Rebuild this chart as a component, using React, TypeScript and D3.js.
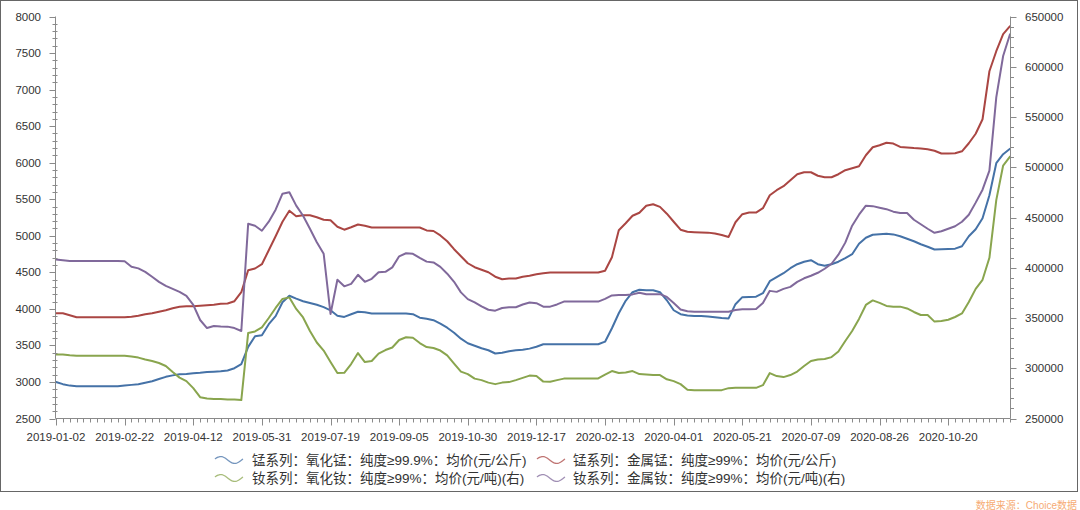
import React from "react";
import * as d3 from "d3";

// ---- Data ----
const tickLabels = [
  "2019-01-02", "2019-02-22", "2019-04-12", "2019-05-31", "2019-07-19",
  "2019-09-05", "2019-10-30", "2019-12-17", "2020-02-13", "2020-04-01",
  "2020-05-21", "2020-07-09", "2020-08-26", "2020-10-20",
];
const tickEvery = 10;

const seriesNames = [
  "锰系列：氧化锰：纯度≥99.9%：均价(元/公斤)",
  "锰系列：金属锰：纯度≥99%：均价(元/公斤)",
  "钕系列：氧化钕：纯度≥99%：均价(元/吨)(右)",
  "钕系列：金属钕：纯度≥99%：均价(元/吨)(右)",
];
const seriesColors = ["#4572A7", "#AA4643", "#89A54E", "#80699B"];

// left axis (元/公斤)
const mnOxide = [
  3000, 2970, 2950, 2940, 2940, 2940, 2940, 2940, 2940, 2940,
  2950, 2960, 2970, 2990, 3010, 3040, 3070, 3090, 3105, 3110,
  3120, 3125, 3135, 3140, 3147, 3157, 3188, 3243, 3480, 3626,
  3640, 3790, 3900, 4091, 4180, 4140, 4105, 4080, 4057, 4023,
  3980, 3906, 3890, 3927, 3961, 3954, 3936, 3936, 3936, 3936,
  3936, 3936, 3927, 3879, 3865, 3845, 3798, 3742, 3674, 3592,
  3530, 3496, 3462, 3434, 3389, 3400, 3421, 3434, 3441, 3456,
  3482, 3516, 3516, 3516, 3516, 3516, 3516, 3516, 3516, 3516,
  3551, 3735, 3940, 4111, 4228, 4262, 4255, 4255, 4228, 4118,
  3981, 3927, 3909, 3904, 3904, 3897, 3886, 3876, 3869, 4064,
  4160, 4164, 4166, 4214, 4378, 4433, 4488, 4556, 4611, 4645,
  4666, 4611, 4590, 4611, 4645, 4693, 4748, 4891, 4973, 5014,
  5021, 5028, 5019, 4994, 4960, 4925, 4884, 4850, 4812, 4816,
  4819, 4824, 4857, 4994, 5090, 5240, 5555, 5993, 6116, 6191,
];
const mnMetal = [
  3940, 3940, 3913, 3885, 3885, 3885, 3885, 3885, 3885, 3885,
  3885, 3893, 3906, 3927, 3940, 3961, 3981, 4009, 4029, 4036,
  4036, 4043, 4050, 4057, 4070, 4073, 4105, 4228, 4529, 4552,
  4611, 4802, 4994, 5192, 5343, 5267, 5281, 5281, 5254, 5220,
  5213, 5124, 5083, 5117, 5154, 5138, 5113, 5113, 5113, 5113,
  5113, 5113, 5113, 5113, 5073, 5065, 5005, 4925, 4816, 4720,
  4624, 4570, 4536, 4501, 4440, 4406, 4415, 4415, 4440, 4453,
  4474, 4488, 4497, 4497, 4497, 4497, 4497, 4497, 4497, 4497,
  4522, 4707, 5076, 5172, 5274, 5315, 5411, 5432, 5395, 5302,
  5192, 5083, 5054, 5049, 5046, 5043, 5030, 5010, 4984, 5185,
  5295, 5318, 5318, 5377, 5555, 5623, 5678, 5760, 5842, 5869,
  5869, 5821, 5801, 5801, 5842, 5897, 5924, 5951, 6102, 6211,
  6239, 6273, 6262, 6215, 6208, 6200, 6195, 6184, 6163, 6125,
  6126, 6129, 6156, 6266, 6396, 6594, 7251, 7525, 7758, 7867,
];
// right axis (元/吨)
const ndOxide = [
  313600, 313600, 312900, 312400, 312400, 312400, 312400, 312400, 312400, 312400,
  312400, 311600, 310600, 308700, 307200, 305200, 302200, 296200, 290700, 287200,
  280200, 271200, 269800, 269300, 269300, 269000, 268800, 268300, 335100, 336600,
  340600, 350000, 360000, 369000, 370500, 359000, 350500, 337100, 325600, 317600,
  306200, 295200, 295500, 304200, 315100, 306200, 307200, 314600, 318100, 320600,
  328100, 330800, 330300, 325100, 321100, 320100, 317600, 312800, 304700, 296700,
  294200, 289700, 288200, 285700, 284200, 285700, 286200, 288200, 290400, 292700,
  292200, 286700, 286500, 288200, 289700, 289900, 289900, 289900, 289900, 289900,
  293700, 297200, 295200, 295700, 297200, 294200, 293700, 293200, 293200, 289000,
  287200, 284200, 278700, 278200, 278200, 278200, 278200, 278200, 280200, 280500,
  280500, 280500, 280500, 283200, 295200, 292200, 291200, 293200, 296700, 302200,
  307200, 308700, 309200, 311100, 316600, 327100, 337100, 349100, 363000, 367500,
  365000, 362000, 361300, 361300, 359500, 356000, 353000, 353000, 346400, 347100,
  348300, 351000, 354500, 366000, 379000, 388000, 409900, 467300, 501700, 510600,
];
const ndMetal = [
  408200, 407500, 406700, 406700, 406700, 406700, 406700, 406700, 406700, 406700,
  406400, 400900, 399400, 395900, 391000, 386000, 382000, 379000, 376000, 372000,
  363000, 348000, 340000, 342000, 341600, 341400, 340000, 337100, 443800, 441800,
  436800, 445800, 457800, 473700, 475200, 461800, 451800, 438800, 425400, 413900,
  354000, 388000, 381500, 384000, 393000, 386000, 389000, 395600, 395900, 400400,
  411400, 414400, 413900, 409900, 406100, 405300, 400900, 394100, 386000, 375500,
  368800, 365500, 361500, 358200, 357300, 360000, 360700, 360700, 363400, 365500,
  364700, 361300, 361300, 363500, 366300, 366300, 366300, 366300, 366300, 366300,
  369000, 372500, 373000, 373000, 373500, 375200, 373700, 373700, 373700, 371000,
  365000, 358500, 356700, 356300, 356300, 356300, 356300, 356300, 356300, 358000,
  358700, 358700, 359000, 365000, 377000, 376000, 379000, 381000, 386000, 389500,
  392000, 395000, 399000, 404000, 413000, 425000, 441800, 452800, 461800, 461300,
  459800, 458300, 455800, 454500, 454500, 447800, 443300, 438800, 434800, 436300,
  438800, 441300, 445800, 452800, 464800, 477700, 496700, 569500, 610700, 632300,
];

const leftDomain = [2500, 8000];
const rightDomain = [250000, 650000];

const W = 1080;
const H = 510;
const PL = 55.5;
const PR = 1010.5;
const PT = 16.5;
const PB = 418.5;
const FONT = "'Liberation Sans', Arial, 'Noto Sans CJK SC', sans-serif";

export default function App() {
  const n = mnOxide.length;
  const x = d3.scaleLinear().domain([0, n - 1]).range([56, 1010]);
  const yL = d3.scaleLinear().domain(leftDomain).range([PB, PT]);
  const yR = d3.scaleLinear().domain(rightDomain).range([PB, PT]);

  const mk = (ys: d3.ScaleLinear<number, number>) =>
    d3.line<number>().x((_, i) => x(i)).y((d) => ys(d));

  const series = [
    { data: mnOxide, scale: yL },
    { data: mnMetal, scale: yL },
    { data: ndOxide, scale: yR },
    { data: ndMetal, scale: yR },
  ];

  const leftMajor = d3.range(leftDomain[0], leftDomain[1] + 1, 500);
  const leftMinor = d3.range(leftDomain[0], leftDomain[1] + 1, 100).filter((v) => v % 500 !== 0);
  const rightMajor = d3.range(rightDomain[0], rightDomain[1] + 1, 50000);
  const rightMinor = d3.range(rightDomain[0], rightDomain[1] + 1, 10000).filter((v) => v % 50000 !== 0);
  const xIdx = d3.range(0, n);

  const axisColor = "#8a8a8a";
  const textColor = "#333";

  const wave = (x0: number, yc: number) => {
    const pts: [number, number][] = d3.range(0, 29).map((k) => [x0 + k, yc - 3.5 * Math.sin((k / 28) * 2 * Math.PI + 0.3)]);
    return d3.line().curve(d3.curveBasis)(pts) || "";
  };

  const legendPos = [
    { sx: 215, tx: 252, y: 460 },
    { sx: 537, tx: 573, y: 460 },
    { sx: 215, tx: 252, y: 478 },
    { sx: 537, tx: 573, y: 478 },
  ];

  return (
    <div style={{ position: "absolute", left: 0, top: 0, width: W, height: H }}>
      <svg width={W} height={H} style={{ display: "block", background: "#fff" }}>
        <rect x={0.5} y={0.5} width={1077} height={491} fill="#fff" stroke="#666" strokeWidth={1} />

        {/* lines */}
        {series.map((s, i) => (
          <path
            key={i}
            d={mk(s.scale)(s.data) || ""}
            fill="none"
            stroke={seriesColors[i]}
            strokeWidth={2}
            strokeLinejoin="round"
            strokeLinecap="round"
          />
        ))}

        {/* left axis */}
        <line x1={PL} x2={PL} y1={PT} y2={PB} stroke={axisColor} strokeWidth={1} />
        {leftMajor.map((v) => (
          <g key={"lm" + v}>
            <line x1={PL - 6} x2={PL} y1={Math.round(yL(v)) + 0.5} y2={Math.round(yL(v)) + 0.5} stroke={axisColor} />
            <text x={41} y={yL(v)} dy="0.35em" textAnchor="end" fontSize={11.5} fontFamily={FONT} fill={textColor}>
              {v}
            </text>
          </g>
        ))}
        {leftMinor.map((v) => (
          <line key={"ln" + v} x1={PL - 3} x2={PL + 2} y1={Math.round(yL(v)) + 0.5} y2={Math.round(yL(v)) + 0.5} stroke={axisColor} />
        ))}

        {/* right axis */}
        <line x1={PR} x2={PR} y1={PT} y2={PB} stroke={axisColor} strokeWidth={1} />
        {rightMajor.map((v) => (
          <g key={"rm" + v}>
            <line x1={PR} x2={PR + 6} y1={Math.round(yR(v)) + 0.5} y2={Math.round(yR(v)) + 0.5} stroke={axisColor} />
            <text x={1025} y={yR(v)} dy="0.35em" textAnchor="start" fontSize={11.5} fontFamily={FONT} fill={textColor}>
              {v}
            </text>
          </g>
        ))}
        {rightMinor.map((v) => (
          <line key={"rn" + v} x1={PR} x2={PR + 3.5} y1={Math.round(yR(v)) + 0.5} y2={Math.round(yR(v)) + 0.5} stroke={axisColor} />
        ))}

        {/* bottom axis */}
        <line x1={PL} x2={PR} y1={PB} y2={PB} stroke={axisColor} strokeWidth={1} />
        {xIdx.map((i) => {
          const major = i % tickEvery === 0;
          const xx = Math.round(x(i)) + 0.5;
          return <line key={"xt" + i} x1={xx} x2={xx} y1={PB} y2={PB + (major ? 7 : 4)} stroke={axisColor} />;
        })}
        {tickLabels.map((t, k) => (
          <text key={t} x={x(k * tickEvery)} y={441} textAnchor="middle" fontSize={11.5} fontFamily={FONT} fill={textColor}>
            {t}
          </text>
        ))}

        {/* legend */}
        {seriesNames.map((name, i) => (
          <g key={name}>
            <path d={wave(legendPos[i].sx, legendPos[i].y)} fill="none" stroke={seriesColors[i]} strokeWidth={1.3} opacity={0.75} />
            <text x={legendPos[i].tx} y={legendPos[i].y} dy="0.35em" fontSize={13.5} fontFamily={FONT} fill={textColor}>
              {name}
            </text>
          </g>
        ))}

        {/* source */}
        <text x={1077} y={505} dy="0.35em" textAnchor="end" fontSize={10} fontFamily={FONT} fill="#f6ab74">
          数据来源：Choice数据
        </text>
      </svg>
    </div>
  );
}
